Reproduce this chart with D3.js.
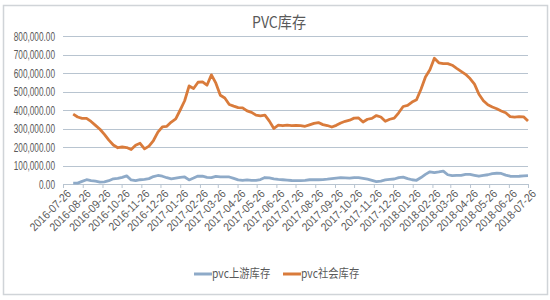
<!DOCTYPE html>
<html lang="zh">
	<head>
		<meta charset="utf-8">
		<title>PVC库存</title>
		<style>
			body {
				margin: 0;
				background: #fff;
			}
			.frame {
				fill: #fff;
				stroke: #d0d4d8;
				stroke-width: 1.5px;
			}
			.grid line {
				stroke: #b8c4d0;
				stroke-width: 1px;
				shape-rendering: crispEdges;
			}
			.axis text, .legend text, .title {
				fill: #595959;
				font-family: "Liberation Sans", "Noto Sans CJK SC", sans-serif;
			}
			.legend text, .title {
				font-family: "Noto Sans CJK SC", sans-serif;
			}
			.title {
				font-size: 16px;
			}
			.line {
				fill: none;
				stroke-width: 2.8px;
				stroke-linejoin: round;
			}
		</style>
	</head>
	<body>
		<div id="graphic"></div>

		<script src="https://cdnjs.cloudflare.com/ajax/libs/d3/7.8.5/d3.min.js"></script>
		<script>
			// weekly readings, first one on 2016-08-11
			var firstWeek = '2016-08-11';

			var upstream = [5, 5, 14, 23, 18, 15, 10, 12, 18, 28, 30, 36, 44, 22, 18, 23, 25, 29, 40, 46,
				42, 34, 28, 32, 36, 38, 22, 32, 43, 42, 36, 34, 41, 38, 38, 38, 30, 22, 20, 22,
				20, 20, 24, 35, 33, 28, 25, 23, 21, 19, 18, 18, 20, 23, 23, 23, 24, 26, 29, 32,
				34, 33, 32, 35, 34, 30, 26, 20, 13, 16, 22, 25, 27, 34, 37, 29, 23, 20, 35, 52,
				66, 61, 65, 70, 50, 45, 47, 47, 52, 52, 47, 42, 46, 50, 56, 58, 57, 48, 42, 41,
				42, 44, 45];

			var social = [378, 362, 355, 355, 338, 317, 296, 268, 237, 211, 196, 200, 197, 186, 209, 220, 190, 205, 235, 280,
				309, 312, 335, 352, 400, 450, 530, 516, 550, 552, 534, 590, 545, 480, 465, 430, 421, 413, 412, 395,
				387, 372, 368, 372, 340, 300, 318, 315, 318, 316, 317, 315, 312, 320, 328, 332, 321, 316, 308, 317,
				330, 339, 345, 356, 357, 335, 350, 355, 370, 362, 339, 350, 356, 385, 419, 425, 443, 455, 512, 578,
				617, 680, 655, 651, 651, 642, 625, 609, 593, 570, 540, 485, 450, 428, 416, 407, 395, 385, 364, 362,
				364, 363, 340];

			var seriesNames = ['pvc上游库存', 'pvc社会库存'];
			var seriesColors = ['#8eaac8', '#d97b3b'];

			var tickLabels = ['2016-07-26', '2016-08-26', '2016-09-26', '2016-10-26', '2016-11-26', '2016-12-26',
				'2017-01-26', '2017-02-26', '2017-03-26', '2017-04-26', '2017-05-26', '2017-06-26',
				'2017-07-26', '2017-08-26', '2017-09-26', '2017-10-26', '2017-11-26', '2017-12-26',
				'2018-01-26', '2018-02-26', '2018-03-26', '2018-04-26', '2018-05-26', '2018-06-26', '2018-07-26'];

			var yTicks = [0, 100000, 200000, 300000, 400000, 500000, 600000, 700000, 800000];

			var width = 550,
				height = 300,
				plot = {left: 63, right: 528, top: 36, bottom: 184};

			var parse = d3.timeParse('%Y-%m-%d');
			var start = parse(firstWeek);
			var dateOf = function(i) { return d3.timeDay.offset(start, i * 7); };

			var x = d3.scaleTime()
				.domain([parse(tickLabels[0]), parse(tickLabels[tickLabels.length - 1])])
				.range([plot.left, plot.right]);

			var y = d3.scaleLinear()
				.domain([0, 800000])
				.range([plot.bottom, plot.top]);

			var svg = d3.select('#graphic')
				.append('svg')
				.attr('width', width)
				.attr('height', height);

			svg.append('rect')
				.classed('frame', true)
				.attr('x', 3.5)
				.attr('y', 5.5)
				.attr('width', 544)
				.attr('height', 289);

			// the source picture is squeezed sideways, so texts get a narrow x scale
			svg.append('text')
				.classed('title', true)
				.attr('text-anchor', 'middle')
				.attr('transform', 'translate(279,28) scale(0.88,1)')
				.text('PVC库存');

			svg.append('g')
				.classed('grid', true)
				.selectAll('line')
				.data(yTicks)
				.enter()
					.append('line')
					.attr('x1', plot.left)
					.attr('x2', plot.right)
					.attr('y1', function(d) { return Math.round(y(d)) + 0.5; })
					.attr('y2', function(d) { return Math.round(y(d)) + 0.5; });

			var fmt = d3.format(',.2f');
			var yAxis = svg.append('g')
				.classed('axis', true)
				.attr('transform', 'translate(' + plot.left + ',0)')
				.call(d3.axisLeft(y).tickValues(yTicks).tickFormat(fmt).tickSize(0).tickPadding(0));
			yAxis.select('.domain').remove();
			yAxis.selectAll('text')
				.style('font-size', '12.5px')
				.attr('x', 0)
				.attr('transform', 'translate(-8,0) scale(0.66,1)');

			var xAxis = svg.append('g')
				.classed('axis', true)
				.attr('transform', 'translate(0,' + plot.bottom + ')')
				.call(d3.axisBottom(x)
					.tickValues(tickLabels.map(parse))
					.tickFormat(d3.timeFormat('%Y-%m-%d'))
					.tickSize(4));
			xAxis.select('.domain').attr('stroke', '#b8c4d0');
			xAxis.selectAll('.tick line').attr('stroke', '#b8c4d0');
			xAxis.selectAll('text')
				.style('font-size', '11.5px')
				.attr('text-anchor', 'end')
				.attr('y', 0)
				.attr('dx', '0.2em')
				.attr('dy', '0.6em')
				.attr('transform', 'translate(2,7) rotate(-45) scale(0.9,1)');

			var line = d3.line()
				.x(function(d, i) { return x(dateOf(i)); })
				.y(function(d) { return y(d * 1000); });

			svg.selectAll('.line')
				.data([upstream, social])
				.enter()
					.append('path')
					.classed('line', true)
					.attr('stroke', function(d, i) { return seriesColors[i]; })
					.attr('d', line);

			var legend = svg.append('g')
				.classed('legend', true)
				.selectAll('g')
				.data(seriesNames)
				.enter()
					.append('g')
					.attr('transform', function(d, i) { return 'translate(' + [194, 283][i] + ',274)'; });

			legend.append('line')
				.attr('x1', 0)
				.attr('x2', 18)
				.attr('stroke-width', 3)
				.attr('stroke', function(d, i) { return seriesColors[i]; });

			legend.append('text')
				.attr('dy', '0.35em')
				.style('font-size', '12px')
				.attr('transform', 'translate(18,0) scale(0.86,1)')
				.text(function(d) { return d; });
		</script>
	</body>
</html>
